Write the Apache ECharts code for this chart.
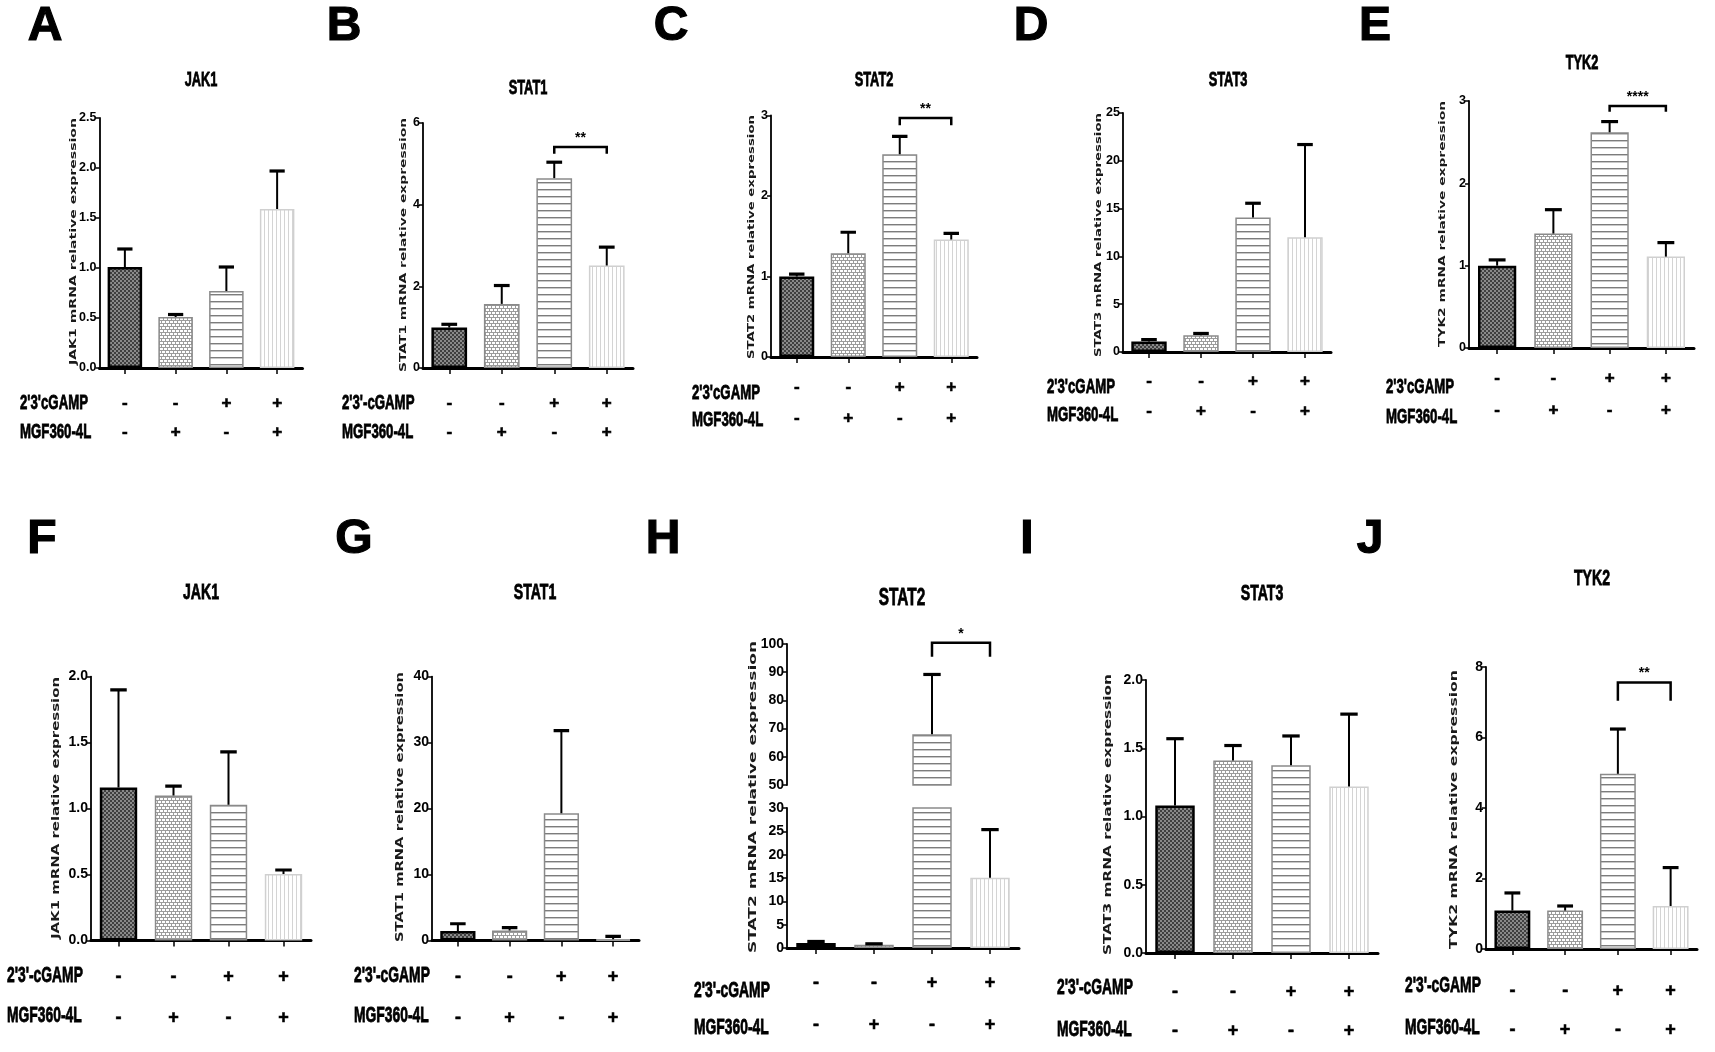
<!DOCTYPE html>
<html><head><meta charset="utf-8">
<script src="https://cdn.jsdelivr.net/npm/echarts@6.0.0/dist/echarts.min.js"></script>
<style>html,body{margin:0;padding:0;background:#fff}#c{width:1715px;height:1052px}</style>
</head><body><div id="c"></div><script>
// ---------- DATA ----------
const cgampSigns = ['-', '-', '+', '+'];
const mgfSigns = ['-', '+', '-', '+'];
const categories = cgampSigns.map((c, i) => c + '\n' + mgfSigns[i]);

const A_jak1_mean = [1.01, 0.51, 0.77, 1.59];
const A_jak1_sd = [0.18, 0.025, 0.24, 0.38];
const B_stat1_mean = [0.99, 1.57, 4.65, 2.51];
const B_stat1_sd = [0.08, 0.45, 0.39, 0.45];
const B_bracket = [5.41, 5.25];
const C_stat2_mean = [1.0, 1.29, 2.52, 1.46];
const C_stat2_sd = [0.03, 0.26, 0.22, 0.075];
const C_bracket = [2.97, 2.88];
const D_stat3_mean = [1.1, 1.74, 14.06, 12.0];
const D_stat3_sd = [0.2, 0.2, 1.5, 9.7];
const E_tyk2_mean = [1.0, 1.39, 2.62, 1.11];
const E_tyk2_sd = [0.07, 0.29, 0.13, 0.17];
const E_bracket = [2.94, 2.87];
const F_jak1_mean = [1.16, 1.10, 1.03, 0.505];
const F_jak1_sd = [0.74, 0.07, 0.40, 0.03];
const G_stat1_mean = [1.44, 1.54, 19.3, 0.2];
const G_stat1_sd = [1.11, 0.43, 12.5, 0.44];
const H_stat2_mean = [1.07, 0.7, 68, 15.07];
const H_stat2_sd = [0.33, 0.2, 21.2, 10.3];
const H_bracket = [100.4, 95.5];
const I_stat3_mean = [1.08, 1.41, 1.375, 1.22];
const I_stat3_sd = [0.49, 0.11, 0.215, 0.53];
const J_tyk2_mean = [1.09, 1.09, 4.97, 1.22];
const J_tyk2_sd = [0.5, 0.13, 1.27, 1.09];
const J_bracket = [7.56, 7.04];

// ---------- STYLE ----------
const ARIAL = '"Liberation Sans",Arial,sans-serif';
const DEJAVU = '"DejaVu Sans",sans-serif';

function makePattern(w, h, draw) {
  const c = document.createElement('canvas'); c.width = w; c.height = h;
  const g = c.getContext('2d'); draw(g); return c;
}
const patDark = makePattern(4, 4, g => { g.fillStyle = '#404040'; g.fillRect(0, 0, 4, 4); g.fillStyle = '#8a8a8a'; g.fillRect(0, 0, 2, 2); g.fillRect(2, 2, 2, 2); });
const patLight = makePattern(4, 6, g => { g.fillStyle = '#9c9c9c'; g.fillRect(0, 0, 4, 6); g.fillStyle = '#fff'; g.fillRect(0, 0, 3, 2); g.fillRect(2, 3, 2, 2); g.fillRect(0, 3, 1, 2); });
const patH = makePattern(4, 7, g => { g.fillStyle = '#fff'; g.fillRect(0, 0, 4, 7); g.fillStyle = '#7c7c7c'; g.fillRect(0, 0, 4, 1); g.fillStyle = '#c8c8c8'; g.fillRect(0, 1, 4, 1); });
const patV = makePattern(4, 4, g => { g.fillStyle = '#fff'; g.fillRect(0, 0, 4, 4); g.fillStyle = '#d4d4d4'; g.fillRect(0, 0, 1, 4); });
const barStyles = [
  { color: { image: patDark, repeat: 'repeat' }, borderColor: '#000', borderWidth: 2.5 },
  { color: { image: patLight, repeat: 'repeat' }, borderColor: '#8a8a8a', borderWidth: 1.5 },
  { color: { image: patH, repeat: 'repeat' }, borderColor: '#8a8a8a', borderWidth: 1.5 },
  { color: { image: patV, repeat: 'repeat' }, borderColor: '#d0d0d0', borderWidth: 1.5 }
];

// ---------- PANELS (layout) ----------
const panels = [
  { letter: 'A', title: 'JAK1', yname: 'JAK1 mRNA relative expression', mean: A_jak1_mean, sd: A_jak1_sd, max: 2.5, interval: 0.5, dec: 1,
    grid: { left: 99.5, top: 118, width: 203, height: 250 }, lp: [45, 27], tp: [201, 80], rowLabel: "2'3'cGAMP", rx: 20, ry: [403, 432], lh: 29, margin: 20.5, nx: 74, ns: [118, 365], row: 1 },
  { letter: 'B', title: 'STAT1', yname: 'STAT1 mRNA relative expression', mean: B_stat1_mean, sd: B_stat1_sd, max: 6, interval: 2, dec: 0, bracket: B_bracket, stars: '**',
    grid: { left: 423, top: 123, width: 210, height: 245 }, lp: [344, 27], tp: [528, 88], rowLabel: "2'3'-cGAMP", rx: 342, ry: [403, 432], lh: 29, margin: 20.5, nx: 404, ns: [118, 372], row: 1 },
  { letter: 'C', title: 'STAT2', yname: 'STAT2 mRNA relative expression', mean: C_stat2_mean, sd: C_stat2_sd, max: 3, interval: 1, dec: 0, bracket: C_bracket, stars: '**',
    grid: { left: 771, top: 115.5, width: 206, height: 241.5 }, lp: [671, 27], tp: [874, 80], rowLabel: "2'3'cGAMP", rx: 692, ry: [393, 420], lh: 31, margin: 14.5, nx: 752, ns: [115, 359], row: 1 },
  { letter: 'D', title: 'STAT3', yname: 'STAT3 mRNA relative expression', mean: D_stat3_mean, sd: D_stat3_sd, max: 25, interval: 5, dec: 0,
    grid: { left: 1123, top: 113, width: 208, height: 239 }, lp: [1031, 27], tp: [1228, 80], rowLabel: "2'3'cGAMP", rx: 1047, ry: [387, 415], lh: 30, margin: 14.5, nx: 1099, ns: [113, 357], row: 1 },
  { letter: 'E', title: 'TYK2', yname: 'TYK2 mRNA relative expression', mean: E_tyk2_mean, sd: E_tyk2_sd, max: 3, interval: 1, dec: 0, bracket: E_bracket, stars: '****',
    grid: { left: 1469, top: 101, width: 225, height: 247 }, lp: [1375, 27], tp: [1582, 63], rowLabel: "2'3'cGAMP", rx: 1386, ry: [387, 417], lh: 31.5, margin: 14.75, nx: 1443, ns: [101, 347], row: 1 },
  { letter: 'F', title: 'JAK1', yname: 'JAK1 mRNA relative expression', mean: F_jak1_mean, sd: F_jak1_sd, max: 2, interval: 0.5, dec: 1,
    grid: { left: 91, top: 676.6, width: 220, height: 264 }, lp: [42, 540], tp: [201, 593], rowLabel: "2'3'-cGAMP", rx: 7, ry: [976, 1016], lh: 41, margin: 16, nx: 56, ns: [677, 939], row: 2 },
  { letter: 'G', title: 'STAT1', yname: 'STAT1 mRNA relative expression', mean: G_stat1_mean, sd: G_stat1_sd, max: 40, interval: 10, dec: 0,
    grid: { left: 432, top: 676.6, width: 207, height: 264 }, lp: [354, 540], tp: [535, 593], rowLabel: "2'3'-cGAMP", rx: 354, ry: [976, 1016], lh: 41, margin: 16, nx: 400, ns: [672, 942], row: 2 },
  { letter: 'H', title: 'STAT2', yname: 'STAT2 mRNA relative expression', mean: H_stat2_mean, sd: H_stat2_sd, broken: true, bracket: H_bracket, stars: '*',
    gridUp: { left: 787, top: 644, width: 232, height: 141 }, grid: { left: 787, top: 808, width: 232, height: 140 },
    lp: [663, 540], tp: [902, 598], rowLabel: "2'3'-cGAMP", rx: 694, ry: [991, 1028], lh: 42, margin: 13.6, nx: 753, ns: [641, 953], row: 2, big: true },
  { letter: 'I', title: 'STAT3', yname: 'STAT3 mRNA relative expression', mean: I_stat3_mean, sd: I_stat3_sd, max: 2, interval: 0.5, dec: 1,
    grid: { left: 1146, top: 680, width: 232, height: 273 }, lp: [1027, 540], tp: [1262, 594], rowLabel: "2'3'-cGAMP", rx: 1057, ry: [988, 1030], lh: 38.6, margin: 19.7, nx: 1108, ns: [674, 955], row: 2 },
  { letter: 'J', title: 'TYK2', yname: 'TYK2 mRNA relative expression', mean: J_tyk2_mean, sd: J_tyk2_sd, max: 8, interval: 2, dec: 0, bracket: J_bracket, stars: '**',
    grid: { left: 1486, top: 667, width: 211, height: 282 }, lp: [1370, 540], tp: [1592, 579], rowLabel: "2'3'-cGAMP", rx: 1405, ry: [986, 1028], lh: 39, margin: 22.5, nx: 1454, ns: [670, 949], row: 2 }
];

// ---------- BUILD ----------
const grids = [], xAxes = [], yAxes = [], series = [], graphics = [];
const measureCtx = document.createElement('canvas').getContext('2d');
function textWidth(text, font) { measureCtx.font = font; return measureCtx.measureText(text).width; }

function addText(text, x, y, font, opts) {
  opts = opts || {};
  const style = { text: text, font: font, fill: opts.fill || '#000', textAlign: opts.align || 'center', align: opts.align || 'center', textVerticalAlign: 'middle', verticalAlign: 'middle' };
  if (opts.heavy) { style.stroke = '#000'; style.lineWidth = opts.heavy; }
  const el = { type: 'text', x: x, y: y, silent: true, z: 10, style: style };
  if (opts.rotation) el.rotation = opts.rotation;
  if (opts.scaleX) el.scaleX = opts.scaleX;
  graphics.push(el);
}

function xAxisCfg(gi, p, show) {
  return { type: 'category', gridIndex: gi, data: categories, boundaryGap: true, show: show,
    axisLine: { show: show, onZero: false, lineStyle: { color: '#000', width: 3 } },
    axisTick: { show: show, alignWithLabel: true, interval: 0, length: 6, lineStyle: { color: '#000', width: 1.5 } },
    axisLabel: { show: show, interval: 0, margin: p.margin, lineHeight: p.lh, fontSize: p.row === 1 ? 17 : 18, fontWeight: 'bold', color: '#000', fontFamily: ARIAL,
      textBorderColor: '#000', textBorderWidth: 0.6 },
    splitLine: { show: false } };
}
function yAxisCfg(gi, p, min, max, interval, dec) {
  const fs = p.row === 1 ? 12.5 : 14;
  return { type: 'value', gridIndex: gi, min: min, max: max, interval: interval,
    axisLine: { show: true, lineStyle: { color: '#000', width: 1.8 } },
    axisTick: { show: true, inside: false, length: 4, lineStyle: { color: '#000', width: 1.5 } },
    axisLabel: { margin: 3, fontSize: fs, fontWeight: 'bold', fontFamily: ARIAL, color: '#000', formatter: v => v.toFixed(dec) },
    splitLine: { show: false } };
}
function barSeries(gi, p) {
  return { type: 'bar', xAxisIndex: gi, yAxisIndex: gi, barWidth: '68%', clip: true, silent: true, z: 2,
    data: p.mean.map((v, i) => ({ value: v, itemStyle: barStyles[i] })) };
}
function errSeries(gi, p) {
  return { type: 'custom', xAxisIndex: gi, yAxisIndex: gi, clip: true, silent: true, z: 5,
    data: p.mean.map((m, i) => [i, m, m + p.sd[i]]),
    encode: { x: 0, y: [1, 2] },
    renderItem: function (params, api) {
      const x = api.value(0);
      const p0 = api.coord([x, api.value(1)]);
      const p1 = api.coord([x, api.value(2)]);
      const cap = api.size([1, 0])[0] * 0.15;
      return { type: 'group', children: [
        { type: 'line', shape: { x1: p0[0], y1: p0[1], x2: p1[0], y2: p1[1] }, style: { stroke: '#000', lineWidth: 2 } },
        { type: 'line', shape: { x1: p1[0] - cap, y1: p1[1], x2: p1[0] + cap, y2: p1[1] }, style: { stroke: '#000', lineWidth: 3.2 } }
      ] };
    } };
}
function bracketSeries(gi, p) {
  return { type: 'custom', xAxisIndex: gi, yAxisIndex: gi, clip: false, silent: true, z: 6,
    data: [[2, 3, p.bracket[0], p.bracket[1]]],
    encode: { x: [0, 1], y: [2, 3] },
    renderItem: function (params, api) {
      const a = api.coord([api.value(0), api.value(2)]);
      const b = api.coord([api.value(1), api.value(2)]);
      const e = api.coord([api.value(0), api.value(3)]);
      return { type: 'group', children: [
        { type: 'polyline', shape: { points: [[a[0], e[1]], [a[0], a[1]], [b[0], b[1]], [b[0], e[1]]] }, style: { stroke: '#000', lineWidth: 2.5, fill: null } },
        { type: 'text', style: { text: p.stars, x: (a[0] + b[0]) / 2, y: a[1] - 9, font: 'bold 14px ' + ARIAL, fill: '#000', align: 'center', textAlign: 'center', verticalAlign: 'middle', textVerticalAlign: 'middle' } }
      ] };
    } };
}

panels.forEach(p => {
  const r2 = p.row === 2;
  addText(p.letter, p.lp[0], p.lp[1], 'bold 48px ' + ARIAL, { heavy: 1.2 });
  const tSize = p.big ? 24 : (r2 ? 22 : 20);
  addText(p.title, p.tp[0], p.tp[1], 'bold ' + tSize + 'px ' + ARIAL, { scaleX: 0.64, heavy: 0.8 });
  const lSize = r2 ? 22 : 21;
  addText(p.rowLabel, p.rx, p.ry[0], 'bold ' + lSize + 'px ' + ARIAL, { align: 'left', scaleX: 0.63, heavy: 0.8 });
  addText('MGF360-4L', p.rx, p.ry[1], 'bold ' + lSize + 'px ' + ARIAL, { align: 'left', scaleX: 0.63, heavy: 0.8 });
  const nFont = 'bold ' + (r2 ? 10.5 : 9.5) + 'px ' + DEJAVU;
  const nLen = p.ns[1] - p.ns[0];
  addText(p.yname, p.nx, (p.ns[0] + p.ns[1]) / 2, nFont, { rotation: Math.PI / 2, scaleX: nLen / textWidth(p.yname, nFont), fill: '#1a1a1a' });

  if (p.broken) {
    let gi = grids.length;
    grids.push(Object.assign({ outerBoundsMode: 'none' }, p.gridUp));
    xAxes.push(xAxisCfg(gi, p, false));
    yAxes.push(yAxisCfg(gi, p, 50, 100, 10, 0));
    series.push(barSeries(gi, p), errSeries(gi, p), bracketSeries(gi, p));
    gi = grids.length;
    grids.push(Object.assign({ outerBoundsMode: 'none' }, p.grid));
    xAxes.push(xAxisCfg(gi, p, true));
    yAxes.push(yAxisCfg(gi, p, 0, 30, 5, 0));
    series.push(barSeries(gi, p), errSeries(gi, p));
  } else {
    const gi = grids.length;
    grids.push(Object.assign({ outerBoundsMode: 'none' }, p.grid));
    xAxes.push(xAxisCfg(gi, p, true));
    yAxes.push(yAxisCfg(gi, p, 0, p.max, p.interval, p.dec));
    series.push(barSeries(gi, p), errSeries(gi, p));
    if (p.bracket) series.push(bracketSeries(gi, p));
  }
});

const chart = echarts.init(document.getElementById('c'), null, { renderer: 'canvas' });
chart.setOption({
  backgroundColor: '#fff',
  animation: false,
  grid: grids, xAxis: xAxes, yAxis: yAxes, series: series,
  graphic: graphics
});
</script></body></html>
